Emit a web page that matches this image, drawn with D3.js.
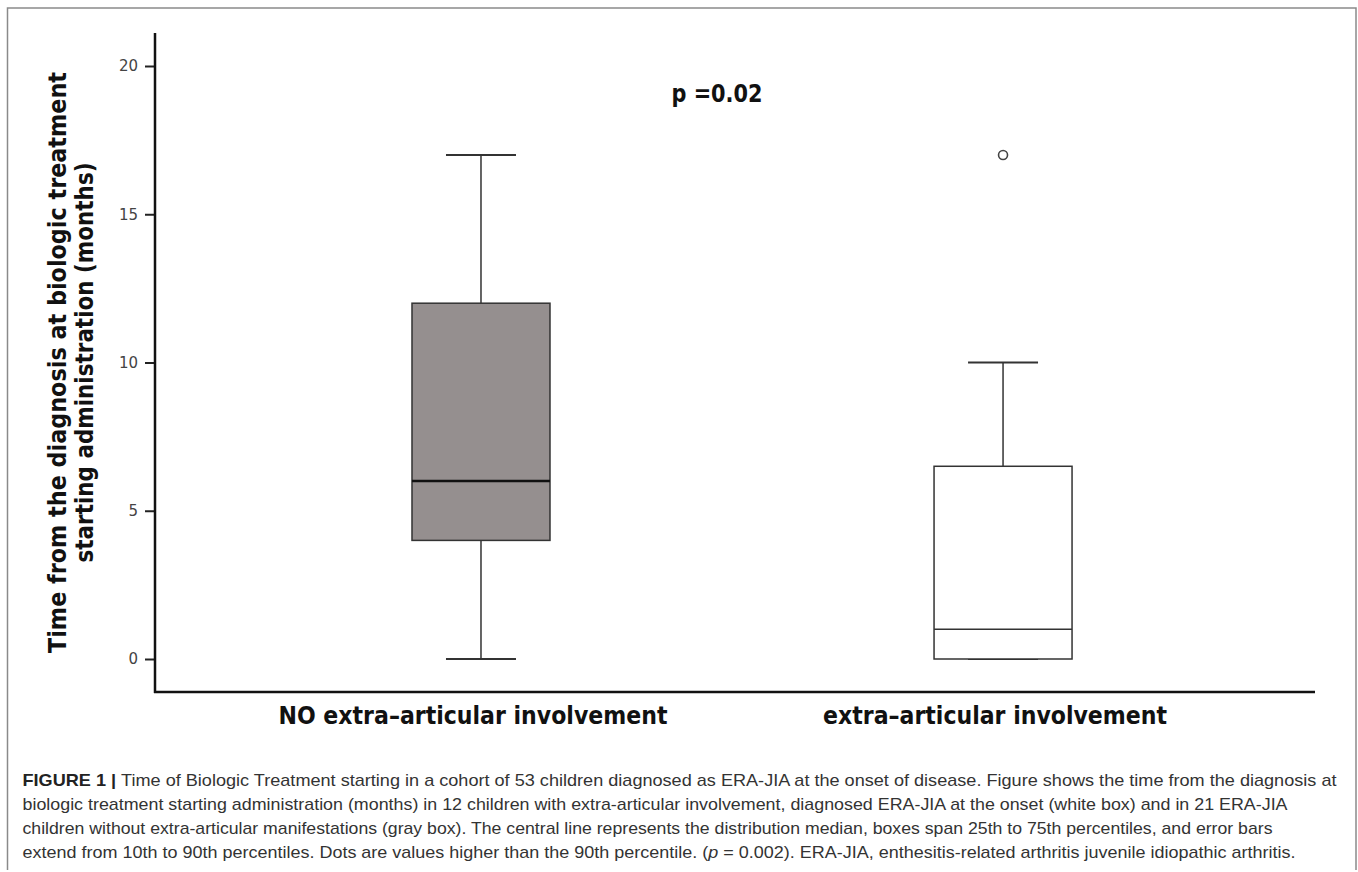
<!DOCTYPE html>
<html>
<head>
<meta charset="utf-8">
<script src="https://cdn.jsdelivr.net/npm/d3@7"></script>
<style>
  html, body { margin: 0; padding: 0; background: #fff; }
  svg { display: block; }
</style>
</head>
<body>
<svg id="chart" width="1358" height="872"></svg>
<script>
// ---- data ----
const categories = ["NO extra–articular involvement", "extra–articular involvement"];
const whiskerLow = [0, 0];
const q1 = [4, 0];
const median = [6, 1];
const q3 = [12, 6.5];
const whiskerHigh = [17, 10];
const outliers = [[], [17]];
const yTicks = [0, 5, 10, 15, 20];
const pLabel = "p =0.02";
const yTitle = ["Time from the diagnosis at biologic treatment", "starting administration (months)"];

// ---- layout ----
const svg = d3.select("#chart");
const boxFills = ["#958f8f", "#ffffff"];
const boxWidth = 138, capWidth = 70;

const y = d3.scaleLinear().domain([0, 20]).range([659, 66]);
const x = d3.scalePoint().domain(categories).range([155, 1315]).padding(0.611).align(0.511);

// frame
svg.append("path")
  .attr("d", "M7.5,870 V8 H1356 V870")
  .attr("fill", "none").attr("stroke", "#8a8a8a").attr("stroke-width", 1.5);

const fitText = (sel, w) => sel.attr("textLength", w).attr("lengthAdjust", "spacingAndGlyphs");

// y axis
const yAxis = svg.append("g").attr("transform", "translate(155,0)")
  .call(d3.axisLeft(y).tickValues(yTicks).tickSize(10).tickPadding(7).tickSizeOuter(0));
yAxis.select(".domain").remove();
yAxis.selectAll(".tick line").attr("stroke", "#222").attr("stroke-width", 2);
yAxis.selectAll(".tick text")
  .attr("font-family", "'DejaVu Sans', 'Open Sans', sans-serif")
  .attr("font-size", 15).attr("fill", "#444");

// axis lines
svg.append("line").attr("x1", 155).attr("x2", 155).attr("y1", 33).attr("y2", 693)
  .attr("stroke", "#111").attr("stroke-width", 2.5);
svg.append("line").attr("x1", 154).attr("x2", 1315).attr("y1", 692).attr("y2", 692)
  .attr("stroke", "#111").attr("stroke-width", 2.5);

// y title
const titleFont = "'Liberation Sans Narrow', 'DejaVu Sans Condensed', 'Open Sans', sans-serif";
const tg = svg.append("g");
yTitle.forEach((t, i) => {
  const bx = [66, 93][i];
  const len = [581, 400][i];
  const cy = 362.5;
  const tx = tg.append("text")
    .attr("transform", `translate(${bx},${cy}) rotate(-90)`)
    .attr("text-anchor", "middle")
    .attr("font-family", titleFont).attr("font-weight", "bold")
    .attr("font-size", 25).attr("fill", "#111")
    .text(t);
  fitText(tx, len);
});

// boxes
categories.forEach((c, i) => {
  const cx = x(c);
  const g = svg.append("g");
  // whiskers
  g.append("line").attr("x1", cx).attr("x2", cx).attr("y1", y(q3[i])).attr("y2", y(whiskerHigh[i]))
    .attr("stroke", "#333").attr("stroke-width", 1.5);
  g.append("line").attr("x1", cx).attr("x2", cx).attr("y1", y(q1[i])).attr("y2", y(whiskerLow[i]))
    .attr("stroke", "#333").attr("stroke-width", 1.5);
  // caps
  [whiskerHigh[i], whiskerLow[i]].forEach(v => {
    g.append("line").attr("x1", cx - capWidth / 2).attr("x2", cx + capWidth / 2)
      .attr("y1", y(v)).attr("y2", y(v))
      .attr("stroke", "#333").attr("stroke-width", 2);
  });
  // box
  g.append("rect")
    .attr("x", cx - boxWidth / 2).attr("width", boxWidth)
    .attr("y", y(q3[i])).attr("height", y(q1[i]) - y(q3[i]))
    .attr("fill", boxFills[i]).attr("stroke", "#333").attr("stroke-width", 1.5);
  // median
  g.append("line").attr("x1", cx - boxWidth / 2).attr("x2", cx + boxWidth / 2)
    .attr("y1", y(median[i])).attr("y2", y(median[i]))
    .attr("stroke", i === 0 ? "#111" : "#333").attr("stroke-width", i === 0 ? 2.5 : 1.5);
  // outliers
  outliers[i].forEach(v => {
    g.append("circle").attr("cx", cx).attr("cy", y(v)).attr("r", 4.5)
      .attr("fill", "none").attr("stroke", "#444").attr("stroke-width", 1.6);
  });
});

// category labels
const labelW = [389, 344];
const labelDx = [-8, -8];
categories.forEach((c, i) => {
  const t = svg.append("text")
    .attr("x", x(c) + labelDx[i]).attr("y", 724)
    .attr("text-anchor", "middle")
    .attr("font-family", titleFont).attr("font-weight", "bold")
    .attr("font-size", 25).attr("fill", "#111")
    .text(c);
  fitText(t, labelW[i]);
});

// p label
fitText(svg.append("text")
  .attr("x", 717).attr("y", 102).attr("text-anchor", "middle")
  .attr("font-family", titleFont).attr("font-weight", "bold")
  .attr("font-size", 24).attr("fill", "#111")
  .text(pLabel), 91);

// caption
const capFont = "'Liberation Sans Narrow', 'Liberation Sans', Arial, sans-serif";
const capLines = [
  [["FIGURE 1 | ", "b"], ["Time of Biologic Treatment starting in a cohort of 53 children diagnosed as ERA-JIA at the onset of disease. Figure shows the time from the diagnosis at", ""]],
  [["biologic treatment starting administration (months) in 12 children with extra-articular involvement, diagnosed ERA-JIA at the onset (white box) and in 21 ERA-JIA", ""]],
  [["children without extra-articular manifestations (gray box). The central line represents the distribution median, boxes span 25th to 75th percentiles, and error bars", ""]],
  [["extend from 10th to 90th percentiles. Dots are values higher than the 90th percentile. (", ""], ["p", "i"], [" = 0.002). ERA-JIA, enthesitis-related arthritis juvenile idiopathic arthritis.", ""]]
];
const capW = [1314, 1265, 1250, 1273];
const capY = [786, 810, 834, 858];
capLines.forEach((parts, i) => {
  const t = svg.append("text").attr("x", 22.5).attr("y", capY[i])
    .attr("font-family", capFont).attr("font-size", 17).attr("fill", "#333");
  parts.forEach(([s, st]) => {
    const ts = t.append("tspan").text(s);
    if (st === "b") ts.attr("font-weight", "bold").attr("fill", "#222");
    if (st === "i") ts.attr("font-style", "italic");
  });
  fitText(t, capW[i]);
});
</script>
</body>
</html>
